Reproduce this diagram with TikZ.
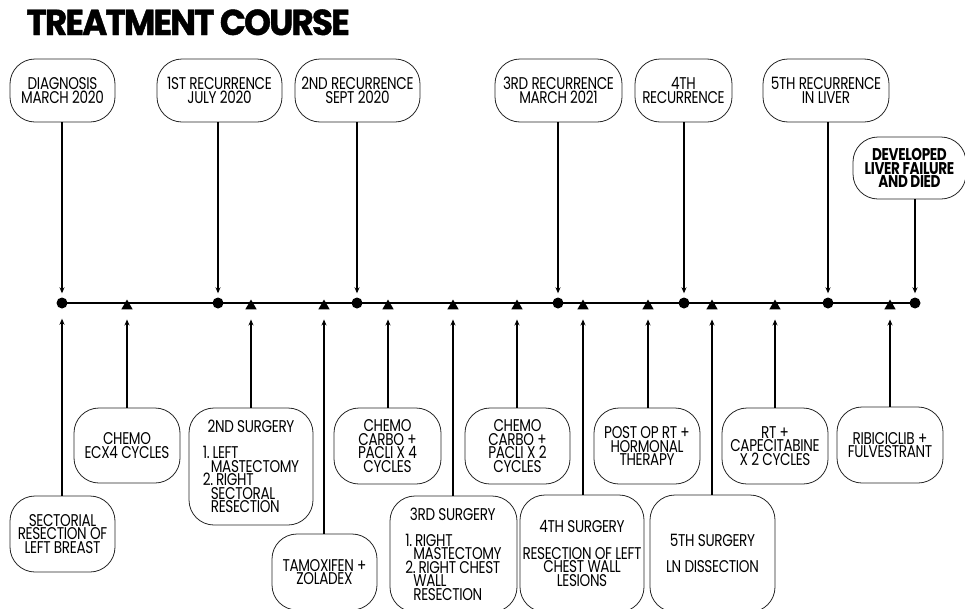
\documentclass[tikz,border=0pt]{standalone}
\usepackage{fontspec}
\usepackage{calc}
\setmainfont{Poppins}[FakeStretch=0.8,LetterSpace=-2]
\newfontfamily\titlefont{Poppins}[FakeStretch=0.95,LetterSpace=-5,FakeBold=1.2]
\usetikzlibrary{arrows.meta}
\usetikzlibrary{shapes.geometric}

\tikzset{
    pill/.style={rectangle, draw=black!85, line width=0.8pt, rounded corners=25pt, align=center, inner sep=0pt, font=\fontsize{17}{13.5}\selectfont},
    listpill/.style={pill, align=left},
    evdot/.style={circle, fill=black, inner sep=0pt, minimum size=11pt},
    trmark/.style={regular polygon, regular polygon sides=3, fill=black, inner sep=0pt, minimum size=13pt},
    down/.style={-{Stealth[length=6pt,width=5pt]}, line width=1.1pt, shorten >=4pt},
    up/.style={-{Stealth[length=6pt,width=5pt]}, line width=1.1pt, shorten >=10pt}
}
\newcommand{\indentline}{\hspace*{8pt}}

\begin{document}
\begin{tikzpicture}[x=1pt, y=-1pt]
    \useasboundingbox (0,0) rectangle (965,608);

    \node [anchor=base west, font=\titlefont\bfseries\fontsize{36}{36}\selectfont] (title) at (23,35) {TREATMENT COURSE};

    % timeline
    \draw [line width=1.5pt] (62,303) -- (915,303);
    \foreach \x [count=\i] in {62,218,357,558,684,828,915}
        \node [evdot] (ev\i) at (\x,303) {};
    \foreach \x [count=\i] in {127,251,324,388,453,517,583,648,712,775,890}
        \node [trmark] (tr\i) at (\x,306) {};

    % events above
    \node [pill, minimum width=105pt, minimum height=63pt] (diag) at (62.5,90.5) {DIAGNOSIS\\MARCH 2020};
    \node [pill, minimum width=125pt, minimum height=63pt] (rec1) at (219.5,90.5) {1ST RECURRENCE\\JULY 2020};
    \node [pill, minimum width=125pt, minimum height=63pt] (rec2) at (357.5,90.5) {2ND RECURRENCE\\SEPT 2020};
    \node [pill, minimum width=127pt, minimum height=63pt] (rec3) at (558.5,90.5) {3RD RECURRENCE\\MARCH 2021};
    \node [pill, minimum width=97pt, minimum height=63pt] (rec4) at (683.5,90.5) {4TH\\RECURRENCE};
    \node [pill, minimum width=126pt, minimum height=63pt] (rec5) at (826,90.5) {5TH RECURRENCE\\IN LIVER};
    \node [pill, minimum width=113pt, minimum height=62pt, font=\bfseries\fontsize{17}{13.5}\selectfont] (died) at (909.5,168) {DEVELOPED\\LIVER FAILURE\\AND DIED};

    % treatments below
    \node [pill, minimum width=105pt, minimum height=76pt] (sectres) at (62.5,534) {SECTORIAL\\RESECTION OF\\LEFT BREAST};
    \node [pill, minimum width=106pt, minimum height=75pt] (chemoa) at (127,445.5) {CHEMO\\ECX4 CYCLES};
    \node [listpill, minimum width=124pt, minimum height=117pt] (surgb) at (251,466.5)
        {\makebox[\widthof{\indentline MASTECTOMY}]{2ND SURGERY}\\[12.5pt]1.\,LEFT\\\indentline MASTECTOMY\\2.\,RIGHT\\\indentline SECTORAL\\\indentline RESECTION};
    \node [pill, minimum width=105pt, minimum height=76pt] (tamox) at (324.5,572) {TAMOXIFEN +\\ZOLADEX};
    \node [pill, minimum width=107pt, minimum height=76pt] (chemob) at (387.5,446) {CHEMO\\CARBO +\\PACLI X 4\\CYCLES};
    \node [listpill, minimum width=127pt, minimum height=116pt] (surgc) at (453.5,554)
        {\makebox[\widthof{2.\,RIGHT CHEST}]{3RD SURGERY}\\[12.5pt]1.\,RIGHT\\\indentline MASTECTOMY\\2.\,RIGHT CHEST\\\indentline WALL\\\indentline RESECTION};
    \node [pill, minimum width=105pt, minimum height=76pt] (chemoc) at (517.5,446) {CHEMO\\CARBO +\\PACLI X 2\\CYCLES};
    \node [pill, minimum width=124pt, minimum height=117pt] (surgd) at (582,553.5) {4TH SURGERY\\[13pt]RESECTION OF LEFT\\CHEST WALL\\LESIONS};
    \node [pill, minimum width=106pt, minimum height=76pt] (postrt) at (647,446) {POST OP RT +\\HORMONAL\\THERAPY};
    \node [pill, minimum width=125pt, minimum height=117pt] (surge) at (712.5,553.5) {5TH SURGERY\\[13pt]LN DISSECTION};
    \node [pill, minimum width=106pt, minimum height=76pt] (rtcape) at (775,446) {RT +\\CAPECITABINE\\X 2 CYCLES};
    \node [pill, minimum width=106pt, minimum height=76pt] (ribi) at (890,445) {RIBICICLIB +\\FULVESTRANT};

    % connectors
    \foreach \b/\m in {diag/ev1, rec1/ev2, rec2/ev3, rec3/ev4, rec4/ev5, rec5/ev6, died/ev7}
        \draw [down] (\b.south -| \m) -- (\m.north);
    \foreach \b/\m in {sectres/ev1, chemoa/tr1, surgb/tr2, tamox/tr3, chemob/tr4, surgc/tr5, chemoc/tr6, surgd/tr7, postrt/tr8, surge/tr9, rtcape/tr10, ribi/tr11}
        \draw [up] (\b.north -| \m) -- (\m.south);
\end{tikzpicture}
\end{document}
